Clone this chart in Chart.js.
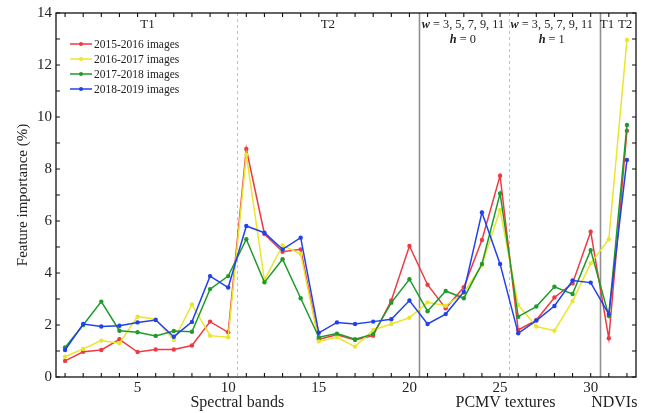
<!DOCTYPE html>
<html>
<head>
<meta charset="utf-8">
<script src="https://cdn.jsdelivr.net/npm/chart.js@4.4.0/dist/chart.umd.min.js"></script>
<style>
html,body{margin:0;padding:0;background:#fff;}
#c{display:block;}
</style>
</head>
<body>
<canvas id="c" width="654" height="413"></canvas>
<script>
// ---- data ----
const features = Array.from({length: 32}, (_, i) => i + 1);
const seriesNames = ['2015-2016 images', '2016-2017 images', '2017-2018 images', '2018-2019 images'];
const imp2015 = [0.62, 0.97, 1.04, 1.45, 0.96, 1.06, 1.06, 1.21, 2.13, 1.72, 8.77, 5.50, 4.82, 4.91, 1.45, 1.62, 1.42, 1.59, 2.94, 5.04, 3.55, 2.64, 3.45, 5.27, 7.74, 1.81, 2.19, 3.06, 3.60, 5.59, 1.49, 9.47];
const imp2016 = [0.78, 1.08, 1.40, 1.30, 2.32, 2.22, 1.42, 2.79, 1.59, 1.53, 8.55, 3.73, 5.06, 4.73, 1.37, 1.53, 1.17, 1.81, 2.04, 2.28, 2.87, 2.74, 3.24, 4.31, 6.42, 2.77, 1.94, 1.78, 2.92, 4.37, 5.30, 12.96];
const imp2017 = [1.14, 2.00, 2.90, 1.78, 1.72, 1.58, 1.77, 1.74, 3.38, 3.88, 5.30, 3.64, 4.53, 3.03, 1.53, 1.67, 1.45, 1.65, 2.86, 3.76, 2.53, 3.31, 3.03, 4.35, 7.06, 2.32, 2.71, 3.47, 3.19, 4.88, 2.35, 9.69];
const imp2018 = [1.04, 2.04, 1.94, 1.97, 2.10, 2.19, 1.55, 2.12, 3.88, 3.44, 5.81, 5.55, 4.91, 5.36, 1.70, 2.10, 2.04, 2.13, 2.22, 2.94, 2.04, 2.42, 3.27, 6.33, 4.35, 1.68, 2.17, 2.73, 3.71, 3.63, 2.42, 8.35];
const xTickLabels = [5, 10, 15, 20, 25, 30];
const yTickLabels = [0, 2, 4, 6, 8, 10, 12, 14];
const separators = [{x: 10.5, dashed: true}, {x: 20.5, dashed: false}, {x: 25.5, dashed: true}, {x: 30.5, dashed: false}];
const groupLabels = [{x: 10.5, text: 'Spectral bands'}, {x: 25.3, text: 'PCMV textures'}, {x: 31.3, text: 'NDVIs'}];
const topLabels = [{x: 5.55, text: 'T1'}, {x: 15.5, text: 'T2'}, {x: 30.9, text: 'T1'}, {x: 31.9, text: 'T2'}];
const windowLabels = [{x: 22.95, h: '0'}, {x: 27.85, h: '1'}];

const colors = ['#ee3a43', '#ebe52c', '#1f9a2b', '#2140ee'];
const FONT = "'Liberation Serif', 'Times New Roman', serif";

const seriesValues = [imp2015, imp2016, imp2017, imp2018];
const datasets = seriesValues.map((vals, i) => ({
  label: seriesNames[i],
  data: features.map((f, j) => ({x: f, y: vals[j]})),
  borderColor: colors[i],
  backgroundColor: colors[i],
  borderWidth: 1.5,
  pointRadius: 2.2,
  pointHoverRadius: 2.2,
  pointBorderWidth: 0,
  tension: 0,
  order: 4 - i
}));

const decor = {
  id: 'decor',
  beforeDatasetsDraw(chart) {
    const {ctx, chartArea: a, scales: {x}} = chart;
    ctx.save();
    separators.forEach(s => {
      const px = Math.round(x.getPixelForValue(s.x)) + 0.5;
      ctx.beginPath();
      if (s.dashed) { ctx.setLineDash([3, 3]); ctx.strokeStyle = '#bdbdc8'; ctx.lineWidth = 1; }
      else { ctx.setLineDash([]); ctx.strokeStyle = '#909090'; ctx.lineWidth = 1.6; }
      ctx.moveTo(px, a.top); ctx.lineTo(px, a.bottom); ctx.stroke();
    });
    ctx.restore();
  },
  afterDatasetsDraw(chart) {
    const {ctx, chartArea: a, scales: {x, y}} = chart;
    ctx.save();
    ctx.setLineDash([]);
    ctx.strokeStyle = '#111';
    ctx.lineWidth = 1.3;
    ctx.strokeRect(a.left, a.top, a.right - a.left, a.bottom - a.top);
    ctx.lineWidth = 1.1;
    ctx.beginPath();
    features.forEach(f => {
      const px = x.getPixelForValue(f);
      ctx.moveTo(px, a.bottom); ctx.lineTo(px, a.bottom - 4);
      ctx.moveTo(px, a.top); ctx.lineTo(px, a.top + 4);
    });
    for (let v = 0; v <= 14; v++) {
      const py = y.getPixelForValue(v);
      ctx.moveTo(a.left, py); ctx.lineTo(a.left + 4, py);
      ctx.moveTo(a.right, py); ctx.lineTo(a.right - 4, py);
    }
    ctx.stroke();

    ctx.fillStyle = '#222';
    ctx.textBaseline = 'middle';
    ctx.textAlign = 'center';
    ctx.font = '13px ' + FONT;
    topLabels.forEach(t => ctx.fillText(t.text, x.getPixelForValue(t.x), 25));
    const SZ = 12.3;
    windowLabels.forEach(w => {
      const cx = x.getPixelForValue(w.x);
      const bi = 'italic bold ' + SZ + 'px ' + FONT, rg = SZ + 'px ' + FONT;
      ctx.font = bi; const wW = ctx.measureText('w').width;
      ctx.font = rg; const rest = ' = 3, 5, 7, 9, 11'; const rW = ctx.measureText(rest).width;
      let sx = cx - (wW + rW) / 2;
      ctx.textAlign = 'left';
      ctx.font = bi; ctx.fillText('w', sx, 25);
      ctx.font = rg; ctx.fillText(rest, sx + wW, 25);
      ctx.font = bi; const hW = ctx.measureText('h').width;
      ctx.font = rg; const rest2 = ' = ' + w.h; const r2W = ctx.measureText(rest2).width;
      sx = cx - (hW + r2W) / 2;
      ctx.font = bi; ctx.fillText('h', sx, 40);
      ctx.font = rg; ctx.fillText(rest2, sx + hW, 40);
      ctx.textAlign = 'center';
    });

    ctx.font = '16px ' + FONT;
    ctx.fillStyle = '#222';
    groupLabels.forEach(g => ctx.fillText(g.text, x.getPixelForValue(g.x), 403));

    ctx.font = '11.5px ' + FONT;
    ctx.textAlign = 'left';
    chart.data.datasets.forEach((ds, i) => {
      const ly = 44 + i * 15;
      ctx.strokeStyle = ds.borderColor; ctx.lineWidth = 1.5;
      ctx.beginPath(); ctx.moveTo(70, ly); ctx.lineTo(92, ly); ctx.stroke();
      ctx.fillStyle = ds.borderColor;
      ctx.beginPath(); ctx.arc(81, ly, 2, 0, Math.PI * 2); ctx.fill();
      ctx.fillStyle = '#222';
      ctx.fillText(ds.label, 94, ly + 0.5);
    });
    ctx.restore();
  }
};

new Chart(document.getElementById('c'), {
  type: 'line',
  data: {datasets},
  options: {
    responsive: false,
    animation: false,
    layout: {padding: {left: 0, right: 18, top: 13, bottom: 0}},
    plugins: {legend: {display: false}, tooltip: {enabled: false}},
    scales: {
      x: {
        type: 'linear', min: 0.5, max: 32.5,
        grid: {display: false, drawTicks: false},
        border: {display: false},
        afterBuildTicks: s => { s.ticks = xTickLabels.map(v => ({value: v})); },
        afterFit: s => { s.height = 36; },
        ticks: {padding: 2, color: '#222', font: {family: FONT, size: 15}, maxRotation: 0, autoSkip: false}
      },
      y: {
        type: 'linear', min: 0, max: 14,
        grid: {display: false, drawTicks: false},
        border: {display: false},
        afterBuildTicks: s => { s.ticks = yTickLabels.map(v => ({value: v})); },
        afterFit: s => { s.width = 56; },
        title: {display: true, text: 'Feature importance (%)', color: '#222', font: {family: FONT, size: 15}, padding: {top: 14, bottom: 0}},
        ticks: {padding: 4, color: '#222', font: {family: FONT, size: 15}}
      }
    }
  },
  plugins: [decor]
});
</script>
</body>
</html>
